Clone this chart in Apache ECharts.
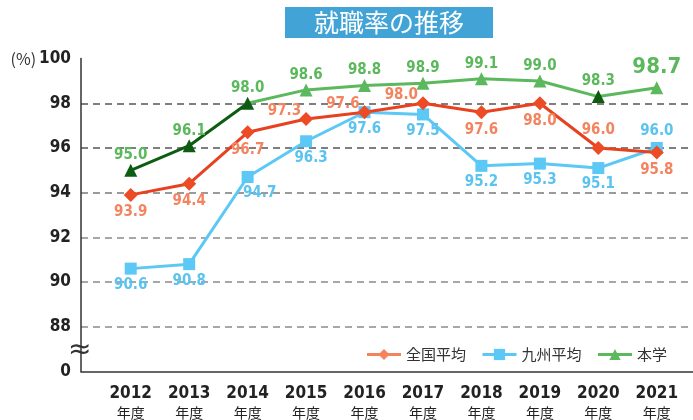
<!DOCTYPE html>
<html>
<head>
<meta charset="utf-8">
<script src="https://cdn.jsdelivr.net/npm/echarts@6/dist/echarts.min.js"></script>
<style>
html, body { margin: 0; padding: 0; background: #fff; }
#chart { width: 693px; height: 420px; }
</style>
</head>
<body>
<div id="chart"></div>
<script>
// 年度
var years = ['2012', '2013', '2014', '2015', '2016', '2017', '2018', '2019', '2020', '2021'];
// 就職率（%）
var zenkoku = [93.9, 94.4, 96.7, 97.3, 97.6, 98.0, 97.6, 98.0, 96.0, 95.8];
var kyushu = [90.6, 90.8, 94.7, 96.3, 97.6, 97.5, 95.2, 95.3, 95.1, 96.0];
var hongaku = [95.0, 96.1, 98.0, 98.6, 98.8, 98.9, 99.1, 99.0, 98.3, 98.7];
// 縦軸の目盛り（一番下は省略して「0」と表示）
var yTicks = [86, 88, 90, 92, 94, 96, 98, 100];

var numFont = "'DejaVu Sans Condensed', 'DejaVu Sans', sans-serif";
var jpFont = "'Noto Sans CJK JP', sans-serif";

var yMin = yTicks[0];
var yMax = yTicks[yTicks.length - 1];
var yStep = yTicks[1] - yTicks[0];

var gridTop = 58.6;
var gridBottom = 48.6;

// ラベルの位置
var zenkokuPos = ['bottom', 'bottom', 'bottom', 'left', 'left', 'left', 'bottom', 'bottom', 'top', 'bottom'];
var kyushuPos = ['bottom', 'bottom', 'bottom', 'bottom', 'bottom', 'bottom', 'bottom', 'bottom', 'bottom', 'top'];

function labelBase(color) {
  return {
    show: true,
    color: color,
    fontFamily: numFont,
    fontWeight: 'bold',
    fontSize: 15,
    formatter: function (p) { return p.value.toFixed(1); }
  };
}

var zenkokuData = zenkoku.map(function (v, i) {
  var lb = { position: zenkokuPos[i], distance: 3 };
  if (zenkokuPos[i] == 'left') {
    lb.distance = 0;
    lb.offset = [2, -8];
  }
  return { value: v, label: lb };
});

var kyushuData = kyushu.map(function (v, i) {
  var lb = { position: kyushuPos[i], distance: 3 };
  if (i == 2) lb.offset = [12, 0];
  if (i == 3) lb.offset = [5, 0];
  return { value: v, label: lb };
});

var hongakuData = hongaku.map(function (v, i) {
  var lb = { position: 'top', distance: 1 };
  if (i == hongaku.length - 1) {
    lb.fontSize = 22;
    lb.distance = 3;
  }
  return { value: v, label: lb };
});

var chart = echarts.init(document.getElementById('chart'));

chart.setOption({
  backgroundColor: '#fff',
  animation: false,
  title: {
    text: '就職率の推移',
    left: 285,
    top: 7,
    padding: [3, 29],
    backgroundColor: '#42a4d6',
    textStyle: {
      color: '#fff',
      fontFamily: jpFont,
      fontWeight: 'normal',
      fontSize: 25,
      lineHeight: 25
    }
  },
  legend: {
    right: 21,
    top: 342,
    itemWidth: 34,
    itemHeight: 14,
    itemGap: 15,
    textStyle: {
      color: '#333',
      fontFamily: jpFont,
      fontSize: 15
    },
    data: [
      { name: '全国平均', itemStyle: { color: '#f4845f' }, lineStyle: { color: '#f4845f', width: 3 } },
      { name: '九州平均', itemStyle: { color: '#5bc8f5' }, lineStyle: { color: '#5bc8f5', width: 3 } },
      { name: '本学', itemStyle: { color: '#5cb85c' }, lineStyle: { color: '#5cb85c', width: 3 } }
    ]
  },
  visualMap: {
    show: false,
    type: 'piecewise',
    seriesIndex: 2,
    dimension: 0,
    pieces: [
      { lte: 2, color: '#0d5c12' },
      { gt: 2, lt: 7.6, color: '#5cb85c' },
      { gte: 7.6, lte: 8.4, color: '#0d5c12' },
      { gt: 8.4, color: '#5cb85c' }
    ]
  },
  grid: [
    // 軸と目盛り線
    { left: 81, right: 0, top: gridTop, bottom: gridBottom, outerBoundsMode: 'none' },
    // 折れ線
    { left: 101.5, right: 7, top: gridTop, bottom: gridBottom, outerBoundsMode: 'none' }
  ],
  xAxis: [
    {
      gridIndex: 0,
      type: 'value',
      min: 0,
      max: 1,
      axisLine: { show: true, lineStyle: { color: '#333', width: 1.5 } },
      axisTick: { show: false },
      axisLabel: { show: false },
      splitLine: { show: false }
    },
    {
      gridIndex: 1,
      type: 'category',
      boundaryGap: true,
      data: years,
      axisLine: { show: false },
      axisTick: { show: false },
      axisLabel: {
        margin: 12,
        formatter: function (v) { return '{y|' + v + '}\n{n|年度}'; },
        rich: {
          y: { fontFamily: numFont, fontWeight: 'bold', fontSize: 17, color: '#222', lineHeight: 20 },
          n: { fontFamily: jpFont, fontSize: 14, color: '#222', lineHeight: 18 }
        }
      }
    }
  ],
  yAxis: [
    {
      gridIndex: 0,
      type: 'value',
      min: yMin,
      max: yMax,
      interval: yStep,
      axisLine: { show: true, lineStyle: { color: '#333', width: 1.5 } },
      axisTick: { show: false },
      axisLabel: {
        margin: 10,
        color: '#222',
        fontFamily: numFont,
        fontWeight: 'bold',
        fontSize: 17,
        formatter: function (v) {
          if (v == yMin) return '0';
          if (v == yMax) return '{p|(%)}' + v;
          return v;
        },
        rich: {
          p: { fontFamily: jpFont, fontWeight: 'normal', fontSize: 16, color: '#333', padding: [0, 3, 0, 0] }
        }
      },
      splitLine: {
        show: true,
        lineStyle: {
          // 一番下と一番上は線なし
          color: ['rgba(0,0,0,0)', '#8a8a8a', '#8a8a8a', '#8a8a8a', '#7a7a7a', '#555', '#555', 'rgba(0,0,0,0)'],
          type: [7, 5],
          width: 1.5
        }
      }
    },
    {
      gridIndex: 1,
      type: 'value',
      min: yMin,
      max: yMax,
      interval: yStep,
      show: false
    }
  ],
  graphic: [
    {
      type: 'text',
      left: 68,
      top: 337,
      style: { text: '≈', font: '28px DejaVu Sans', fill: '#333' }
    }
  ],
  series: [
    {
      name: '全国平均',
      type: 'line',
      xAxisIndex: 1,
      yAxisIndex: 1,
      data: zenkokuData,
      symbol: 'diamond',
      symbolSize: 14,
      lineStyle: { color: '#e8411f', width: 3 },
      itemStyle: { color: '#ec4b25' },
      label: labelBase('#f4845f'),
      z: 3
    },
    {
      name: '九州平均',
      type: 'line',
      xAxisIndex: 1,
      yAxisIndex: 1,
      data: kyushuData,
      symbol: 'rect',
      symbolSize: 12,
      lineStyle: { color: '#5bc8f5', width: 3 },
      itemStyle: { color: '#5bc8f5' },
      label: labelBase('#5bc3ef'),
      z: 2
    },
    {
      name: '本学',
      type: 'line',
      xAxisIndex: 1,
      yAxisIndex: 1,
      data: hongakuData,
      symbol: 'triangle',
      symbolSize: 13,
      lineStyle: { width: 3 },
      label: labelBase('#5cb85c'),
      z: 4
    }
  ]
});
</script>
</body>
</html>
